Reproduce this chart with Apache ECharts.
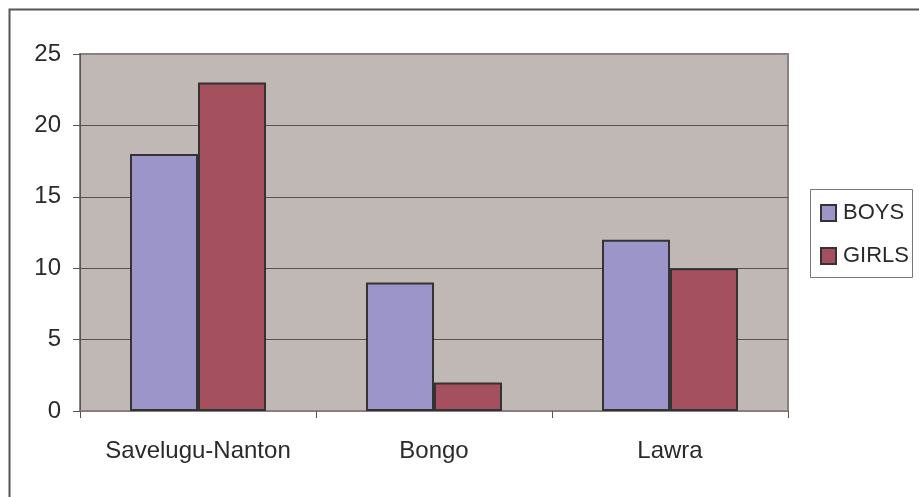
<!DOCTYPE html>
<html>
<head>
<meta charset="utf-8">
<script src="https://cdn.jsdelivr.net/npm/echarts@6/dist/echarts.min.js"></script>
<style>
  html, body { margin: 0; padding: 0; background: #ffffff; }
  #chart { width: 919px; height: 497px; }
</style>
</head>
<body>
<div id="chart"></div>
<script>
// Districts and counts by gender
const districts = ['Savelugu-Nanton', 'Bongo', 'Lawra'];
const boys = [18, 9, 12];
const girls = [23, 2, 10];
const yTicks = { min: 0, max: 25, interval: 5 };

const FONT = '"Liberation Sans", Arial, sans-serif';
const chart = echarts.init(document.getElementById('chart'), null, { renderer: 'canvas' });

chart.setOption({
  animation: false,
  backgroundColor: '#ffffff',
  textStyle: { fontFamily: FONT },
  grid: {
    left: 80, top: 54, right: 131, bottom: 86,
    show: true,
    backgroundColor: '#c0b8b5',
    borderColor: '#8a8282',
    borderWidth: 2
  },
  legend: {
    orient: 'vertical',
    left: 820,
    top: 202,
    padding: 0,
    itemWidth: 15,
    itemHeight: 16,
    itemGap: 21,
    icon: 'rect',
    textStyle: { fontFamily: FONT, fontSize: 22, color: '#2a2a2a', padding: [0, 0, 0, 2] },
    data: ['BOYS', 'GIRLS']
  },
  xAxis: {
    type: 'category',
    data: districts,
    axisLine: { lineStyle: { color: '#888080', width: 2 } },
    axisTick: { show: true, interval: 0, length: 7, lineStyle: { color: '#555' } },
    axisLabel: { interval: 0, fontFamily: FONT, fontSize: 24, color: '#2a2a2a', margin: 28 }
  },
  yAxis: {
    type: 'value',
    min: yTicks.min,
    max: yTicks.max,
    interval: yTicks.interval,
    axisLine: { show: true, lineStyle: { color: '#555', width: 1 } },
    axisTick: { show: true, length: 7, lineStyle: { color: '#555' } },
    axisLabel: { fontFamily: FONT, fontSize: 24, color: '#2a2a2a', margin: 19 },
    splitLine: {
      show: true,
      lineStyle: { color: ['#888080', '#5a5252', '#5a5252', '#5a5252', '#5a5252', '#8a8282'], width: 1 }
    }
  },
  series: [
    {
      name: 'BOYS',
      type: 'bar',
      data: boys,
      barWidth: 68,
      barGap: '0%',
      itemStyle: { color: '#9b95c9', borderColor: '#333333', borderWidth: 2 }
    },
    {
      name: 'GIRLS',
      type: 'bar',
      data: girls,
      barWidth: 68,
      barGap: '0%',
      itemStyle: { color: '#a5505f', borderColor: '#333333', borderWidth: 2 }
    }
  ],
  graphic: [
    {
      type: 'rect',
      silent: true,
      z: -1,
      shape: { x: 9.5, y: 9.5, width: 930, height: 520 },
      style: { fill: null, stroke: '#555555', lineWidth: 2 }
    },
    {
      type: 'rect',
      silent: true,
      z: -1,
      shape: { x: 810.5, y: 189.5, width: 102, height: 88 },
      style: { fill: '#ffffff', stroke: '#777777', lineWidth: 1 }
    }
  ]
});
</script>
</body>
</html>
